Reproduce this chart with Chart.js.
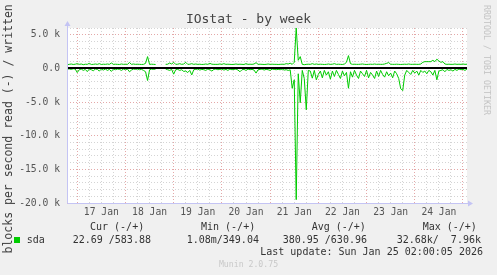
<!DOCTYPE html>
<html><head><meta charset="utf-8">
<script src="https://cdn.jsdelivr.net/npm/chart.js@4"></script>
<style>
html,body{margin:0;padding:0;background:#f0f0f0;}
#wrap{position:relative;width:497px;height:275px;overflow:hidden;font-family:"DejaVu Sans Mono",monospace;color:#333;}
canvas{position:absolute;left:0;top:0;}
.t{position:absolute;white-space:pre;line-height:1;}
</style></head><body>
<div id="wrap">
<canvas id="c" width="497" height="275"></canvas>
<div class="t" style="left:0;width:497px;text-align:center;top:12px;font-size:13px;color:#444;">IOstat - by week</div>
<div class="t" style="left:-141px;top:109px;width:300px;text-align:center;font-size:11.5px;color:#444;transform:rotate(-90deg);transform-origin:150px 6px;">blocks per second read (-) / written (+)</div>
<div class="t" style="left:387px;top:56px;width:200px;text-align:center;font-size:8.3px;color:#c4c4c4;transform:rotate(90deg);transform-origin:100px 4px;">RRDTOOL / TOBI OETIKER</div>
<div class="t" style="left:90px;top:222px;font-size:10px;">Cur (-/+)</div>
<div class="t" style="left:201px;top:222px;font-size:10px;">Min (-/+)</div>
<div class="t" style="left:311.7px;top:222px;font-size:10px;">Avg (-/+)</div>
<div class="t" style="left:422.7px;top:222px;font-size:10px;">Max (-/+)</div>
<div style="position:absolute;left:14px;top:237px;width:6px;height:6px;background:#00cc00;"></div>
<div class="t" style="left:26.7px;top:235px;font-size:10px;">sda</div>
<div class="t" style="left:72.7px;top:235px;font-size:10px;">22.69 /583.88</div>
<div class="t" style="left:186.7px;top:235px;font-size:10px;">1.08m/349.04</div>
<div class="t" style="left:282.7px;top:235px;font-size:10px;">380.95 /630.96</div>
<div class="t" style="left:396.7px;top:235px;font-size:10px;">32.68k/  7.96k</div>
<div class="t" style="right:14px;top:247px;font-size:10px;">Last update: Sun Jan 25 02:00:05 2026</div>
<div class="t" style="left:0;width:497px;text-align:center;top:260px;font-size:8.2px;color:#c8c8c8;">Munin 2.0.75</div>
</div>
<script>
// hours relative to 17 Jan 00:00; first sample at START_HOUR, one per hour
const START_HOUR = -5;
const X_MIN = -5.1, X_MAX = 194;
const Y_MIN = -20000, Y_MAX = 6000;
const X_LABEL_HOURS = [12, 36, 60, 84, 108, 132, 156, 180];
const X_LABELS = ['17 Jan','18 Jan','19 Jan','20 Jan','21 Jan','22 Jan','23 Jan','24 Jan'];
const Y_LABEL_VALUES = [5000, 0, -5000, -10000, -15000, -20000];
const Y_LABELS = ['5.0 k','0.0','-5.0 k','-10.0 k','-15.0 k','-20.0 k'];

const WRITTEN = [
 550,600,650,580,620,
 700,600,650,550,620,600,750,580,600,650,
 600,700,580,620,600,650,600,800,600,620,
 600,580,650,600,620,600,870,600,650,600,
 620,600,580,600,750,1750,600,620,600,580,
 null,null,null,null,
 600,620,800,650,900,600,
 620,700,600,650,900,600,620,700,600,650,
 600,620,580,600,650,600,750,620,600,600,
 600,650,600,700,600,620,600,580,600,650,
 600,620,600,580,700,600,620,600,650,850,
 600,620,600,580,600,650,600,620,600,600,
 580,600,620,600,700,650,770,600,900,6000,
 1200,1750,600,550,600,620,600,700,600,650,
 600,620,600,580,600,650,600,620,700,600,
 620,600,580,650,900,1900,700,600,620,600,
 600,620,650,600,580,600,620,600,650,600,
 620,600,600,650,750,860,620,600,600,620,
 600,580,600,620,600,650,600,600,620,600,
 600,650,900,1000,1000,1000,1000,1200,1000,1370,
 1100,900,1000,650,600,620,600,600,650,600,
 620,600,650,600,620
];
const READ = [
 -100,-80,-150,-50,-100,
 -620,-200,-100,-300,-150,-480,-100,-200,-350,-100,
 -150,-400,-100,-250,-100,-300,-150,-450,-100,-200,
 -100,-150,-300,-100,-200,-100,-500,-250,-100,-150,
 -100,-200,-150,-300,-500,-1800,-200,-100,-150,-100,
 null,null,null,null,
 -100,-200,-300,-150,-860,-200,
 -150,-300,-200,-450,-400,-620,-300,-970,-200,-150,
 -100,-250,-150,-200,-300,-100,-200,-400,-150,-100,
 -200,-150,-100,-250,-150,-300,-100,-200,-150,-100,
 -250,-500,-200,-150,-300,-100,-200,-150,-250,-700,
 -200,-150,-100,-250,-150,-200,-300,-100,-150,-200,
 -150,-200,-100,-250,-200,-300,-220,-2950,-1700,-19500,
 -800,-5100,-300,-1500,-6150,-300,-400,-1450,-300,-1700,
 -900,-400,-1400,-300,-1000,-500,-1600,-400,-1200,-300,
 -900,-1500,-400,-1100,-600,-2950,-500,-1300,-300,-1000,
 -1500,-400,-800,-1200,-300,-1400,-600,-1000,-1500,-400,
 -1200,-300,-900,-1300,-500,-1100,-700,-1400,-400,-800,
 -1500,-3000,-3300,-1000,-300,-600,-900,-300,-700,-400,
 -1000,-300,-600,-400,-800,-300,-500,-1000,-300,-1700,
 -400,-300,-200,-500,-150,-300,-200,-400,-150,-300,
 -100,-200,-150,-300,-100
];

const toPts = arr => arr.map((v, i) => ({x: START_HOUR + i, y: v}));

const MAJOR = '#e4a8a8', MINOR = '#d4d4d4', AXIS = '#c4c4f4';

const decor = {
  id: 'decor',
  beforeDraw(chart) {
    const {ctx, chartArea: a} = chart;
    ctx.save();
    ctx.fillStyle = '#ffffff';
    ctx.fillRect(a.left, a.top, a.right - a.left, a.bottom - a.top);
    ctx.restore();
  },
  afterDatasetsDraw(chart) {
    const {ctx, chartArea: a, scales} = chart;
    const y0 = Math.round(scales.y.getPixelForValue(0));
    ctx.save();
    ctx.strokeStyle = '#000000';
    ctx.lineWidth = 2;
    ctx.beginPath(); ctx.moveTo(a.left, y0); ctx.lineTo(a.right, y0); ctx.stroke();
    // axes with arrows
    ctx.strokeStyle = AXIS; ctx.fillStyle = AXIS; ctx.lineWidth = 1;
    const L = Math.round(a.left) + 0.5, B = Math.round(a.bottom) + 0.5;
    ctx.beginPath(); ctx.moveTo(L, B); ctx.lineTo(L, a.top - 4); ctx.stroke();
    ctx.beginPath(); ctx.moveTo(L - 3, a.top - 2); ctx.lineTo(L + 3, a.top - 2); ctx.lineTo(L, a.top - 7); ctx.closePath(); ctx.fill();
    ctx.beginPath(); ctx.moveTo(L, B); ctx.lineTo(a.right + 2, B); ctx.stroke();
    ctx.beginPath(); ctx.moveTo(a.right + 1, B - 3); ctx.lineTo(a.right + 1, B + 3); ctx.lineTo(a.right + 6, B); ctx.closePath(); ctx.fill();
    ctx.restore();
  }
};

new Chart(document.getElementById('c'), {
  type: 'line',
  data: {
    datasets: [
      {label: 'read', data: toPts(READ), borderColor: '#00cc00', borderWidth: 1, pointRadius: 0, tension: 0, spanGaps: false},
      {label: 'written', data: toPts(WRITTEN), borderColor: '#00cc00', borderWidth: 1, pointRadius: 0, tension: 0, spanGaps: false}
    ]
  },
  options: {
    responsive: false, animation: false, devicePixelRatio: 1,
    layout: {padding: {left: 0, right: 30, top: 28, bottom: 0}},
    plugins: {legend: {display: false}, title: {display: false}, tooltip: {enabled: false}},
    scales: {
      x: {
        type: 'linear', min: X_MIN, max: X_MAX,
        afterBuildTicks: s => {
          const t = [];
          for (let h = 0; h <= X_MAX; h += 6) t.push({value: h});
          s.ticks = t;
        },
        afterFit: s => { s.height = 72; },
        grid: {color: c => (c.tick && c.tick.value % 24 === 0) ? MAJOR : MINOR, lineWidth: 1, drawTicks: false},
        border: {display: false, dash: [1, 2]},
        ticks: {
          autoSkip: false, maxRotation: 0, minRotation: 0, padding: 4, color: '#555',
          font: {family: 'DejaVu Sans Mono', size: 9.7},
          callback: v => { const i = X_LABEL_HOURS.indexOf(v); return i >= 0 ? X_LABELS[i] : ''; }
        }
      },
      y: {
        type: 'linear', min: Y_MIN, max: Y_MAX,
        afterBuildTicks: s => {
          const t = [];
          for (let v = Y_MIN; v <= Y_MAX; v += 1000) t.push({value: v});
          s.ticks = t;
        },
        afterFit: s => { s.width = 67; },
        grid: {color: c => (c.tick && c.tick.value % 5000 === 0) ? MAJOR : MINOR, lineWidth: 1, drawTicks: false},
        border: {display: false, dash: [1, 2]},
        ticks: {
          autoSkip: false, padding: 7, color: '#555',
          font: {family: 'DejaVu Sans Mono', size: 9.7},
          callback: v => { const i = Y_LABEL_VALUES.indexOf(v); return i >= 0 ? Y_LABELS[i] : ''; }
        }
      }
    }
  },
  plugins: [decor]
});
</script>
</body></html>
